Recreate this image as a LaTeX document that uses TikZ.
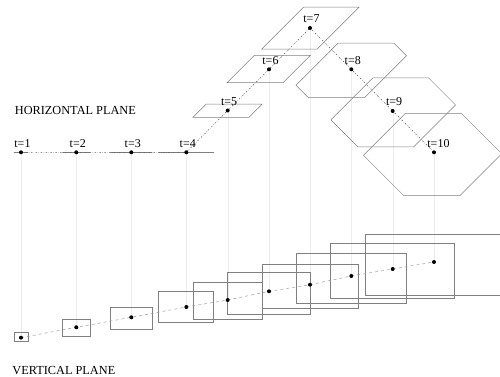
\documentclass[tikz,border=0pt]{standalone}
\usepackage{fontspec}
\setmainfont{Liberation Serif}
\usetikzlibrary{calc}
\begin{document}
\begin{tikzpicture}[x=1pt,y=-1pt,
  shapeline/.style={draw=black!50,line width=0.5pt},
  vboxline/.style={draw=black!50,line width=0.5pt},
  hconn/.style={draw=black!65,line width=0.5pt,dash pattern=on 1.5pt off 1.5pt on 0.4pt off 1.5pt},
  vconn/.style={draw=black!40,line width=0.5pt,dash pattern=on 3pt off 3pt},
  drop/.style={draw=black!7,line width=0.4pt},
  dotmark/.style={fill=black},
  tlabel/.style={anchor=base west,inner sep=0pt,font=\fontsize{12}{14}\selectfont},
  planelabel/.style={anchor=base west,inner sep=0pt,font=\fontsize{12.3}{14}\selectfont}]
\useasboundingbox (0,0) rectangle (500,377);
% horizontal-plane positions
\coordinate (h1) at (21,152.3);
\coordinate (h2) at (76.3,152.3);
\coordinate (h3) at (131.3,152.3);
\coordinate (h4) at (186.3,152.3);
\coordinate (h5) at (227.7,110.5);
\coordinate (h6) at (269,69.3);
\coordinate (h7) at (310,28);
\coordinate (h8) at (351.3,69.3);
\coordinate (h9) at (392.7,111);
\coordinate (h10) at (434,152.3);
% vertical-plane positions
\coordinate (v1) at (21,337.7);
\coordinate (v2) at (76.3,327.3);
\coordinate (v3) at (131.3,317.3);
\coordinate (v4) at (186.3,307);
\coordinate (v5) at (227.7,300);
\coordinate (v6) at (269,291.3);
\coordinate (v7) at (310,284.7);
\coordinate (v8) at (351.3,276);
\coordinate (v9) at (392.7,269);
\coordinate (v10) at (434,262);
% faint drop lines
\foreach \i in {1,...,10} {\draw[drop] (h\i) -- (v\i);}
% horizontal-plane shapes: centre, width, rise of / edge, rise of \ edge
\newcommand\hshape[5]{%
  \draw[shapeline,line join=miter] ({#1-#3/2+#4/2-#5/2},{#2-(#4+#5)/2})
    -- ({#1+#3/2+#4/2-#5/2},{#2-(#4+#5)/2})
    -- ({#1+#3/2+#4/2+#5/2},{#2+(#5-#4)/2})
    -- ({#1+#3/2-#4/2+#5/2},{#2+(#4+#5)/2})
    -- ({#1-#3/2-#4/2+#5/2},{#2+(#4+#5)/2})
    -- ({#1-#3/2-#4/2-#5/2},{#2+(#4-#5)/2}) -- cycle;}
\hshape{21}{152.3}{14.3}{0}{0}
\hshape{76.3}{152.3}{28}{0}{0}
\hshape{131.3}{152.3}{42}{0}{0}
\hshape{186.3}{152.3}{55}{0}{0}
\hshape{227.5}{110.7}{56}{13.3}{0}
\hshape{268.7}{69}{56}{27.3}{0}
\hshape{310.3}{28.2}{55.5}{42}{0}
\hshape{351.3}{70.5}{56}{42}{12.5}
\hshape{393.2}{112.4}{55.6}{42}{27}
\hshape{432.6}{154.5}{56}{42}{40.4}
% vertical-plane boxes: centre, width, height
\newcommand\vrectbox[4]{\draw[vboxline] ({#1-#3/2},{#2-#4/2}) rectangle ({#1+#3/2},{#2+#4/2});}
\vrectbox{21}{337.2}{14.3}{9}
\vrectbox{76.3}{327.8}{28}{17}
\vrectbox{131.3}{318.2}{42}{22.3}
\vrectbox{186.2}{307}{55}{31.4}
\vrectbox{227.8}{301}{69}{36.6}
\vrectbox{268.8}{293.2}{83}{41.7}
\vrectbox{310.5}{286.3}{96.4}{44}
\vrectbox{351.5}{278.3}{110.4}{50}
\vrectbox{392.5}{270.7}{123.6}{55.3}
\vrectbox{434}{264.7}{137.4}{61.3}
% connectors
\draw[hconn] (h1) -- (h2) -- (h3) -- (h4) -- (h5) -- (h6) -- (h7) -- (h8) -- (h9) -- (h10);
\draw[vconn] (v1) -- (v2) -- (v3) -- (v4) -- (v5) -- (v6) -- (v7) -- (v8) -- (v9) -- (v10);
% dots and labels
\foreach \i in {1,...,10} {
  \fill[dotmark] (h\i) circle (2);
  \fill[dotmark] (v\i) circle (2);
  \node[tlabel] (lab\i) at ($(h\i)+(-6.8,-5)$) {t=\i};
}
\node[planelabel] (hp) at (14.7,114) {HORIZONTAL PLANE};
\node[planelabel] (vp) at (12.3,374) {VERTICAL PLANE};
\end{tikzpicture}
\end{document}
